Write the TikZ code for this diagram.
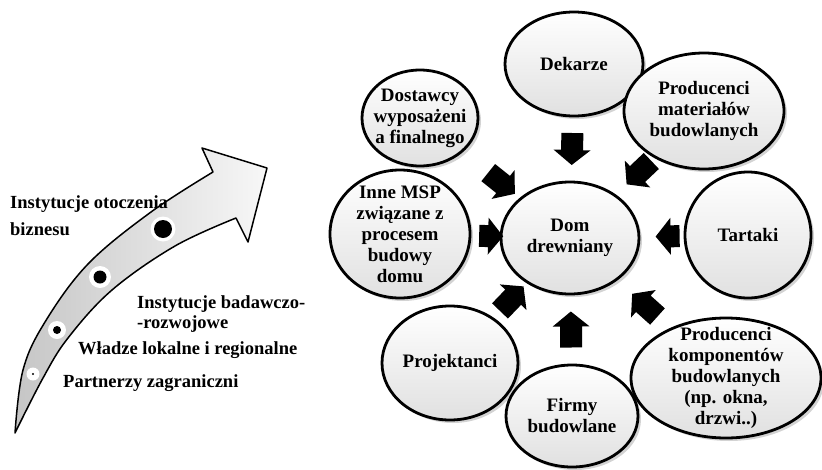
\documentclass[tikz,border=0pt]{standalone}
\usepackage{fontspec}
\setmainfont{Liberation Serif}
\usetikzlibrary{shapes.geometric,shadows}
\tikzset{
  bubble/.style={ellipse, draw=black, line width=2.8pt, inner sep=-10pt,
    top color=white, bottom color=gray!24,
    drop shadow={shadow xshift=3pt, shadow yshift=-3pt, opacity=0.35},
    align=center, font=\bfseries\fontsize{19}{21}\selectfont},
  lbl/.style={anchor=west, inner sep=0pt, align=left,
    font=\bfseries\fontsize{18.5}{20}\selectfont},
  feed/.pic={\fill[black] (-#1/2,-11) -- (#1/2-15,-11) -- (#1/2-15,-18.5)
    -- (#1/2,0) -- (#1/2-15,18.5) -- (#1/2-15,11) -- (-#1/2,11) -- cycle;}
}
\begin{document}
\begin{tikzpicture}[x=1pt, y=-1pt, line join=round]
\useasboundingbox (0,0) rectangle (822,469);
% curved arrow on the left
\draw[line width=1.5pt, left color=gray!45, right color=gray!6]
  plot[smooth, tension=0.6] coordinates {(15,433) (23,370) (45,322) (88,264) (151,212) (213,172)}
  -- (202,148) -- (267,168) -- (248,242) -- (236,218)
  -- plot[smooth, tension=0.6] coordinates {(236,218) (175,246) (112,290) (68,338) (43,378) (15,433)}
  -- cycle;
\fill[white] (33,374) circle (6.5); \fill[black] (33,374) circle (1.2);
\fill[white] (57,330) circle (9);   \fill[black] (57,330) circle (4);
\fill[white] (100,277) circle (11); \fill[black] (100,277) circle (6.5);
\fill[white] (163,229) circle (12.5); \fill[black] (163,229) circle (9);
\node[lbl] (otocz) at (10,216) {Instytucje otoczenia\\[7pt]biznesu};
\node[lbl] (badaw) at (137,314) {Instytucje badawczo-\\-rozwojowe};
\node[lbl] (wladz) at (78,350) {Władze lokalne i regionalne};
\node[lbl] (partn) at (63,383) {Partnerzy zagraniczni};
% bubbles
\node[bubble, minimum width=138, minimum height=104] (dek) at (574,64) {Dekarze};
\node[bubble, minimum width=116, minimum height=96] (dost) at (420,118) {Dostawcy\\wyposażeni\\a finalnego};
\node[bubble, minimum width=160, minimum height=116] (mat) at (704,111) {Producenci\\materiałów\\budowlanych};
\node[bubble, minimum width=140, minimum height=128] (inne) at (400,234) {Inne MSP\\związane z\\procesem\\budowy\\domu};
\node[bubble, minimum width=138, minimum height=112] (dom) at (570,238) {Dom\\drewniany};
\node[bubble, minimum width=126, minimum height=126] (tar) at (748,235) {Tartaki};
\node[bubble, minimum width=136, minimum height=114] (proj) at (450,363) {Projektanci};
\node[bubble, minimum width=132, minimum height=102] (firmy) at (572,416) {Firmy\\budowlane};
\node[bubble, minimum width=190, minimum height=120] (komp) at (726,378) {Producenci\\komponentów\\budowlanych\\(np. okna,\\drzwi..)};
% arrows into the centre
\path (dek) -- (dom) pic[pos=0.5, sloped, allow upside down] {feed=32};
\path (dost) -- (dom) pic[pos=0.68, sloped, allow upside down] {feed=34};
\path (mat) -- (dom) pic[pos=0.4, sloped, allow upside down] {feed=34};
\path (inne) -- (dom) pic[pos=0.7, sloped, allow upside down] {feed=24};
\path (tar) -- (dom) pic[pos=0.37, sloped, allow upside down] {feed=24};
\path (proj) -- (dom) pic[pos=0.55, sloped, allow upside down] {feed=34};
\path (firmy) -- (dom) pic[pos=0.5, sloped, allow upside down] {feed=36};
\path (komp) -- (dom) pic[pos=0.48, sloped, allow upside down] {feed=34};
\end{tikzpicture}
\end{document}
